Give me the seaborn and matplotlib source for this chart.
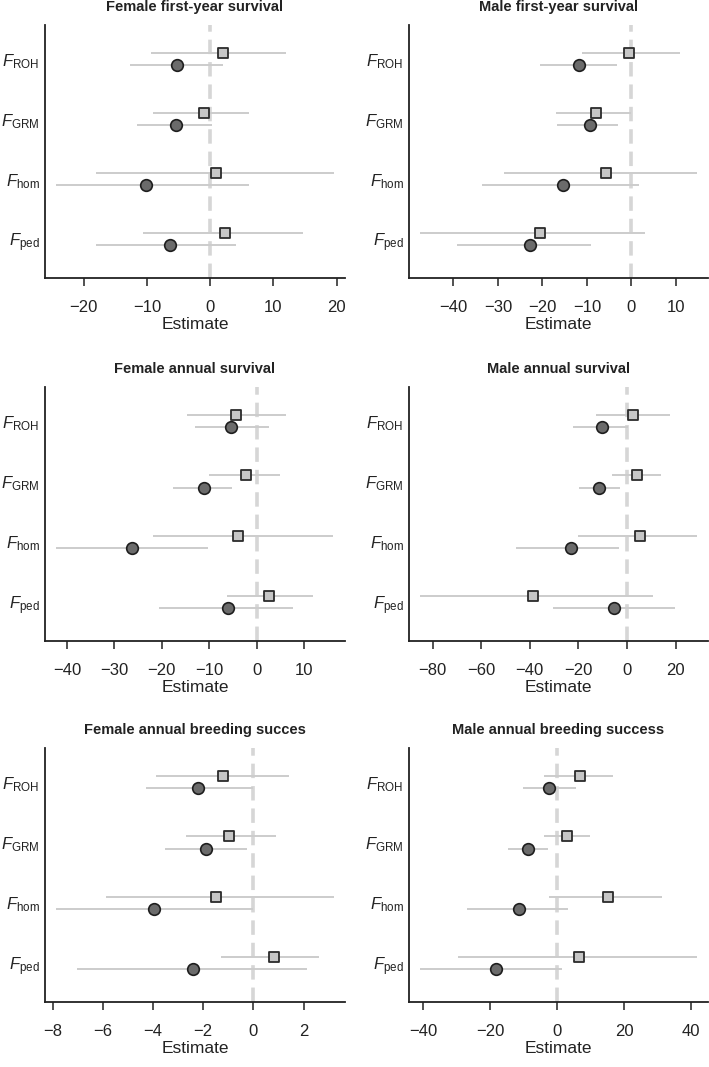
import numpy as np
import pandas as pd
import seaborn as sns
import matplotlib.pyplot as plt

# measures, top to bottom
measures = ['ROH', 'GRM', 'hom', 'ped']

titles = ['Female first-year survival', 'Male first-year survival',
          'Female annual survival', 'Male annual survival',
          'Female annual breeding succes', 'Male annual breeding success']

# square markers (upper of each pair): estimate, lower, upper
sq_est = [[2.0, -0.95, 0.85, 2.4],
          [-0.45, -7.9, -5.8, -20.6],
          [-4.4, -2.3, -3.9, 2.5],
          [2.5, 4.0, 5.2, -38.8],
          [-1.2, -0.97, -1.5, 0.82],
          [6.7, 3.0, 15.1, 6.4]]
sq_lo = [[-9.4, -9.1, -18.0, -10.6],
         [-11.2, -17.0, -28.6, -47.6],
         [-14.7, -10.1, -21.8, -6.3],
         [-12.9, -6.2, -20.1, -85.2],
         [-3.88, -2.70, -5.87, -1.29],
         [-3.9, -3.9, -2.5, -29.5]]
sq_hi = [[12.0, 6.2, 19.5, 14.7],
         [10.9, -0.15, 14.8, 3.1],
         [6.2, 4.9, 16.1, 11.9],
         [17.5, 13.8, 28.8, 10.7],
         [1.41, 0.90, 3.21, 2.63],
         [16.8, 9.9, 31.3, 41.8]]

# circle markers (lower of each pair)
ci_est = [[-5.3, -5.4, -10.2, -6.3],
          [-11.8, -9.4, -15.4, -22.8],
          [-5.4, -11.2, -26.2, -6.0],
          [-10.4, -11.5, -23.0, -5.3],
          [-2.19, -1.90, -3.97, -2.42],
          [-2.5, -8.6, -11.4, -18.3]]
ci_lo = [[-12.6, -11.5, -24.3, -18.0],
         [-20.5, -16.7, -33.6, -39.2],
         [-12.9, -17.6, -42.2, -20.5],
         [-22.2, -19.9, -45.6, -30.5],
         [-4.29, -3.53, -7.86, -7.04],
         [-10.1, -14.8, -27.0, -41.0]]
ci_hi = [[2.1, 0.3, 6.2, 4.1],
         [-3.3, -3.1, 1.8, -9.0],
         [2.5, -5.3, -10.2, 7.6],
         [0.4, -2.7, -3.3, 19.6],
         [-0.03, -0.27, 0.0, 2.12],
         [5.5, -2.7, 3.1, 1.5]]

xlims = [(-26.1, 21.3), (-50.0, 17.2), (-44.6, 18.6),
         (-89.7, 33.3), (-8.3, 3.65), (-44.2, 45.0)]
xticks = [[-20, -10, 0, 10, 20], [-40, -30, -20, -10, 0, 10],
          [-40, -30, -20, -10, 0, 10], [-80, -60, -40, -20, 0, 20],
          [-8, -6, -4, -2, 0, 2], [-40, -20, 0, 20, 40]]

sns.set_style('ticks')
plt.rcParams['font.family'] = ['Liberation Sans', 'DejaVu Sans']
plt.rcParams['mathtext.fontset'] = 'custom'
plt.rcParams['mathtext.rm'] = 'Liberation Sans'
plt.rcParams['mathtext.it'] = 'Liberation Sans:italic'
plt.rcParams['axes.edgecolor'] = '#222222'

W, H = 709, 1067
fig = plt.figure(figsize=(W / 100, H / 100), dpi=100)

# axes boxes in pixels: left, right, top, bottom
cols = [(45, 345), (409, 708)]
rows = [(25, 278), (387, 641), (748, 1002)]

ypos = np.array([4, 3, 2, 1])
off = 0.1
ylabels = [r'$\mathit{F}_{\mathrm{%s}}$' % m for m in measures]

for i in range(6):
    l, r = cols[i % 2]
    t, b = rows[i // 2]
    ax = fig.add_axes([l / W, 1 - b / H, (r - l) / W, (b - t) / H])

    df = pd.DataFrame({
        'y': np.concatenate([ypos + off, ypos - off]),
        'est': sq_est[i] + ci_est[i],
        'lo': sq_lo[i] + ci_lo[i],
        'hi': sq_hi[i] + ci_hi[i],
        'model': ['sq'] * 4 + ['ci'] * 4,
    })

    ax.axvline(0, color='#d6d6d6', lw=2.6, ls=(0, (4, 2.2)), zorder=1)
    ax.hlines(df['y'], df['lo'], df['hi'], color='#cccccc', lw=1.4, zorder=2)
    sns.scatterplot(data=df[df.model == 'sq'], x='est', y='y', marker='s',
                    s=48, color='#c6c6c6', edgecolor='#2b2b2b', linewidth=1.3,
                    ax=ax, zorder=3)
    sns.scatterplot(data=df[df.model == 'ci'], x='est', y='y', marker='o',
                    s=70, color='#6b6b6b', edgecolor='#1e1e1e', linewidth=1.2,
                    ax=ax, zorder=3)

    ax.set_xlim(xlims[i])
    ax.set_ylim(0.35, 4.57)
    ax.set_xticks(xticks[i])
    ax.set_xticklabels([str(v).replace('-', '\u2212') for v in xticks[i]],
                       fontsize=12, color='#222222')
    ax.set_yticks(ypos)
    ax.set_yticklabels(ylabels, fontsize=12, color='#222222')
    ax.tick_params(axis='y', length=0, pad=4)
    ax.tick_params(axis='x', length=6, width=1.1, color='#222222', pad=10)
    ax.set_xlabel('Estimate', fontsize=12.5, color='#222222', labelpad=1)
    ax.set_ylabel('')
    ax.set_title(titles[i], fontsize=10.5, fontweight='bold', color='#222222', pad=10)
    for s in ['left', 'bottom']:
        ax.spines[s].set_linewidth(1.3)
    sns.despine(ax=ax)

fig.savefig('out.png', dpi=100)
